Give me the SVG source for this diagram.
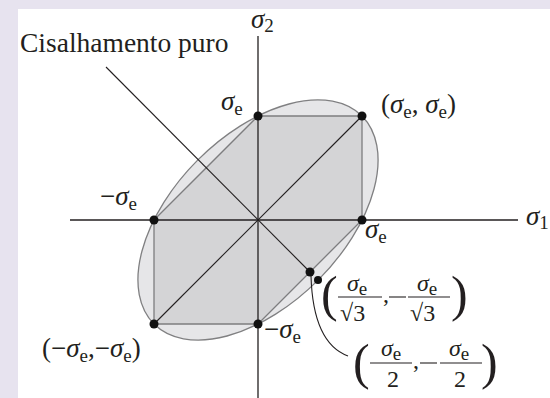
<svg xmlns="http://www.w3.org/2000/svg" width="550" height="398" viewBox="0 0 550 398">
<style>
text{fill:#231f20;font-family:"Liberation Serif","Times New Roman","DejaVu Serif",serif}
.lab{font-size:27.5px}
.m{font-size:27px}
.i{font-style:italic}
.sub{font-size:19px}
.fr{font-size:24px}
.fs{font-size:19px}
.big{font-size:50px}
.ax{stroke:#231f20;stroke-width:1.3;fill:none}
.ln{stroke:#231f20;stroke-width:1.1;fill:none}
.gr{stroke:#7d7d7f;stroke-width:1.3;fill:none}
.dot{fill:#111}
</style>
<rect x="0" y="0" width="550" height="398" fill="#e7e3ef"/>
<rect x="18" y="9" width="532" height="389" fill="#ffffff"/>

<g id="regions">
  <ellipse cx="258" cy="220" rx="147" ry="85" transform="rotate(-45 258 220)" fill="#e6e6e8" stroke="#808082" stroke-width="1.3"/>
  <polygon points="362,220 362,116 258,116 154,220 154,324 258,324" fill="#d4d4d6"/>
  <polyline class="gr" points="258,116 362,116 362,220"/>
  <polyline class="gr" points="154,220 154,324 258,324"/>
  <line class="gr" x1="154" y1="220" x2="258" y2="116"/>
  <line class="gr" x1="362" y1="220" x2="258" y2="324"/>
</g>

<g id="axes">
  <line class="ax" x1="258" y1="36" x2="258" y2="398"/>
  <line class="ax" x1="70" y1="220" x2="518" y2="220" stroke="#3a3a3a"/>
  <text class="m" x="251" y="28"><tspan class="i">σ</tspan><tspan class="sub" dy="4">2</tspan></text>
  <text class="m" x="526" y="225"><tspan class="i">σ</tspan><tspan class="sub" dy="4">1</tspan></text>
</g>

<g id="connectors">
  <line class="ln" x1="106" y1="67" x2="310" y2="272"/>
  <line class="ln" x1="154" y1="324" x2="362" y2="116"/>
  <path class="ln" d="M311,276 Q313,343 348,356"/>
</g>

<g id="label-pure-shear">
  <text class="lab" x="20" y="52">Cisalhamento puro</text>
</g>

<g id="p-0-se">
  <circle class="dot" cx="258" cy="116" r="4.5"/>
  <text class="m" x="221" y="110"><tspan class="i">σ</tspan><tspan class="sub" dy="5">e</tspan></text>
</g>
<g id="p-se-se">
  <circle class="dot" cx="362" cy="116" r="4.5"/>
  <text class="m" x="381" y="113">(<tspan class="i">σ</tspan><tspan class="sub" dy="5">e</tspan><tspan dy="-5">, </tspan><tspan class="i">σ</tspan><tspan class="sub" dy="5">e</tspan><tspan dy="-5">)</tspan></text>
</g>
<g id="p-mse-0">
  <circle class="dot" cx="154" cy="220" r="4.5"/>
  <text class="m" x="100" y="205">−<tspan class="i">σ</tspan><tspan class="sub" dy="5">e</tspan></text>
</g>
<g id="p-se-0">
  <circle class="dot" cx="362" cy="220" r="4.5"/>
  <text class="m" x="365" y="238"><tspan class="i">σ</tspan><tspan class="sub" dy="5">e</tspan></text>
</g>
<g id="p-mse-mse">
  <circle class="dot" cx="154" cy="324" r="4.5"/>
  <text class="m" x="42" y="357">(−<tspan class="i">σ</tspan><tspan class="sub" dy="5">e</tspan><tspan dy="-5">,−</tspan><tspan class="i">σ</tspan><tspan class="sub" dy="5">e</tspan><tspan dy="-5">)</tspan></text>
</g>
<g id="p-0-mse">
  <circle class="dot" cx="258" cy="324" r="4.5"/>
  <text class="m" x="264" y="338">−<tspan class="i">σ</tspan><tspan class="sub" dy="5">e</tspan></text>
</g>

<g id="p-vonmises-shear">
  <circle class="dot" cx="318" cy="280" r="4"/>
  <text class="big" x="321" y="311">(</text>
  <text class="fr" x="347" y="291"><tspan class="i">σ</tspan><tspan class="fs" dy="4">e</tspan></text>
  <line class="ln" x1="338" y1="297" x2="382" y2="297" stroke-width="1.2"/>
  <text class="fr" x="340" y="321">√3</text>
  <text class="fr" x="383" y="302">,</text>
  <line class="ln" x1="389" y1="297" x2="406" y2="297" stroke-width="1.2"/>
  <text class="fr" x="417" y="291"><tspan class="i">σ</tspan><tspan class="fs" dy="4">e</tspan></text>
  <line class="ln" x1="408" y1="297" x2="450" y2="297" stroke-width="1.2"/>
  <text class="fr" x="410" y="321">√3</text>
  <text class="big" x="451" y="311">)</text>
</g>

<g id="p-tresca-shear">
  <circle class="dot" cx="310" cy="272" r="4.5"/>
  <text class="big" x="353" y="379">(</text>
  <text class="fr" x="381" y="356"><tspan class="i">σ</tspan><tspan class="fs" dy="4">e</tspan></text>
  <line class="ln" x1="370" y1="363" x2="412" y2="363" stroke-width="1.2"/>
  <text class="fr" x="387" y="387">2</text>
  <text class="fr" x="413" y="368">,</text>
  <line class="ln" x1="420" y1="363" x2="437" y2="363" stroke-width="1.2"/>
  <text class="fr" x="449" y="356"><tspan class="i">σ</tspan><tspan class="fs" dy="4">e</tspan></text>
  <line class="ln" x1="440" y1="363" x2="482" y2="363" stroke-width="1.2"/>
  <text class="fr" x="454" y="387">2</text>
  <text class="big" x="481" y="379">)</text>
</g>
</svg>
